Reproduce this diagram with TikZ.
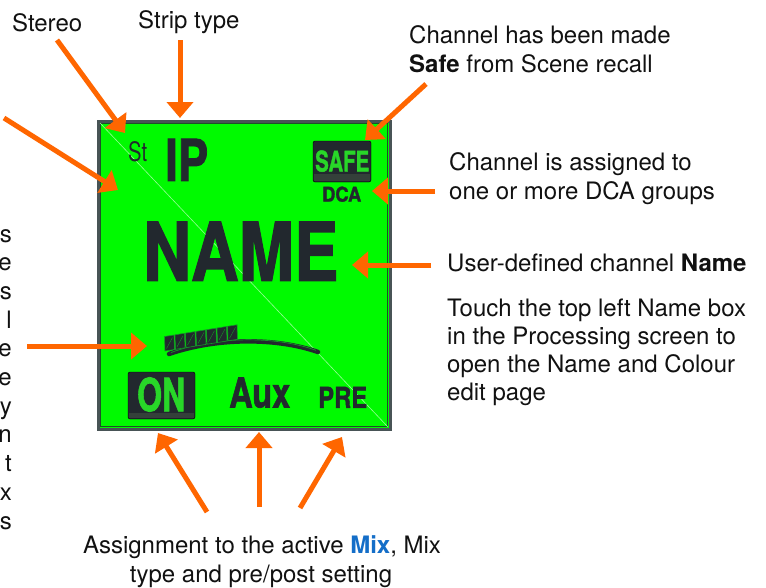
\documentclass[tikz,border=0pt]{standalone}
\usepackage{fontspec}
\setmainfont{TeX Gyre Heros}
\newfontfamily\lcdheavy{TeX Gyre Heros}[FakeBold=1.6]
\usetikzlibrary{arrows.meta}
\definecolor{orng}{RGB}{255,102,0}
\definecolor{lcd}{RGB}{0,250,0}
\definecolor{lcdlight}{RGB}{150,255,150}
\definecolor{ink}{RGB}{34,40,46}
\definecolor{inkshelf}{RGB}{52,64,58}
\definecolor{lettergreen}{RGB}{40,215,40}
\definecolor{barline}{RGB}{20,150,40}
\definecolor{mixblue}{RGB}{20,110,200}
\definecolor{bord}{RGB}{72,84,86}
\definecolor{bordin}{RGB}{30,80,40}
\definecolor{txt}{RGB}{17,17,17}
\begin{document}
\begin{tikzpicture}[x=1pt,y=-1pt,
  lbl/.style={anchor=base west,inner sep=0pt,text=txt,font=\fontsize{24}{28}\selectfont},
  lblc/.style={anchor=base,inner sep=0pt,text=txt,font=\fontsize{24}{28}\selectfont},
  lble/.style={anchor=base east,inner sep=0pt,text=txt,font=\fontsize{24}{28}\selectfont},
  lcdtxt/.style={anchor=south west,inner sep=0pt,text=ink,font=\lcdheavy\bfseries},
  lcdinv/.style={anchor=south west,inner sep=0pt,text=lettergreen,font=\lcdheavy\bfseries},
  callout/.style={draw=orng,line width=5pt,-{Triangle[length=16pt,width=26pt]}}]

\useasboundingbox (0,0) rectangle (766,587);
\fill[white] (0,0) rectangle (766,587);

% LCD panel
\draw[fill=lcd,draw=bord,line width=3pt] (98,121) rectangle (390,429);
\draw[draw=bordin,line width=0.8pt] (100.5,123.5) rectangle (387.5,426.5);
\draw[lcdlight,line width=0.6pt] (100,123) -- (388,427);

% St / IP
\node[anchor=south west,inner sep=0pt,text=ink] (st) at (128,162) {\resizebox{19pt}{20pt}{St}};
\node[lcdtxt] (ip) at (165,181) {\resizebox{43pt}{42pt}{IP}};

% SAFE badge
\draw[fill=ink,rounded corners=2pt] (313,141) rectangle (371,182);
\fill[inkshelf] (314,174) rectangle (370,181);
\node[lcdinv] (safe) at (315,172) {\resizebox{54pt}{21pt}{SAFE}};
\node[lcdtxt] (dca) at (322,202) {\resizebox{39pt}{15pt}{DCA}};

% NAME
\node[lcdtxt] (name) at (143,281) {\resizebox{195pt}{59pt}{NAME}};

% meter
\draw[ink,line width=4.5pt,line cap=round] (169,354) .. controls (215,338) and (275,337) .. (318,352);
\draw[barline,line width=0.7pt] (171,352.5) .. controls (215,336.5) and (275,335.5) .. (316,350.3);
\foreach \i in {0,...,6} {
  \pgfmathsetmacro\bx{165+10.5*\i}
  \pgfmathsetmacro\by{351-1.7*\i}
  \filldraw[fill=ink,draw=barline,line width=0.6pt] (\bx,\by) -- (\bx+9.5,\by-1.5) -- (\bx+9,\by-16) -- (\bx-0.5,\by-14.5) -- cycle;
  \draw[barline,line width=0.4pt] (\bx+1.5,\by-2.5) -- (\bx+7.5,\by-13.5);
}

% ON badge
\draw[fill=ink,rounded corners=2pt] (128,372) rectangle (195,419);
\fill[inkshelf] (129,413) rectangle (194,418);
\node[lcdinv] (on) at (137,412) {\resizebox{48pt}{34pt}{ON}};

% Aux / PRE
\node[lcdtxt] (aux) at (229,408) {\resizebox{61pt}{30pt}{Aux}};
\node[lcdtxt] (pre) at (318,408) {\resizebox{49pt}{21pt}{PRE}};

% labels
\node[lbl] (stereo) at (12,31) {Stereo};
\node[lbl] (strip) at (138,28) {Strip type};
\node[lbl] (safe1) at (409,43) {Channel has been made};
\node[lbl] (safe2) at (409,72) {\textbf{Safe} from Scene recall};
\node[lbl] (dca1) at (449,170) {Channel is assigned to};
\node[lbl] (dca2) at (449,199) {one or more DCA groups};
\node[lbl] (user) at (447,271) {User-defined channel \textbf{Name}};
\node[lbl] (t1) at (447,316) {Touch the top left Name box};
\node[lbl] (t2) at (447,344) {in the Processing screen to};
\node[lbl] (t3) at (447,372) {open the Name and Colour};
\node[lbl] (t4) at (447,400) {edit page};
\node[lblc] (asg1) at (262,553) {Assignment to the active \textcolor{mixblue}{\textbf{Mix}}, Mix};
\node[lblc] (asg2) at (261,582) {type and pre/post setting};
\foreach \t [count=\i from 0] in {s,e,s,l,e,e,y,n,t,x,s} {
  \node[lble] (lf\i) at (12,{242+28.7*\i}) {\t};
}

% arrow coordinates
\coordinate (aT1) at (57,40);   \coordinate (aH1) at (125,133);
\coordinate (aT2) at (180,40);  \coordinate (aH2) at (180,118);
\coordinate (aT3) at (4,118);   \coordinate (aH3) at (118,190);
\coordinate (aT4) at (426,84);  \coordinate (aH4) at (365,140);
\coordinate (aT5) at (435,191); \coordinate (aH5) at (372,191);
\coordinate (aT6) at (431,265); \coordinate (aH6) at (352,265);
\coordinate (aT7) at (27,346);  \coordinate (aH7) at (147,346);
\coordinate (aT8) at (207,512); \coordinate (aH8) at (158,433);
\coordinate (aT9) at (259,507); \coordinate (aH9) at (259,432);
\coordinate (aT10) at (300,508); \coordinate (aH10) at (342,437);

\foreach \k in {1,...,10} {
  \draw[callout] (aT\k) -- (aH\k);
}
\end{tikzpicture}
\end{document}
